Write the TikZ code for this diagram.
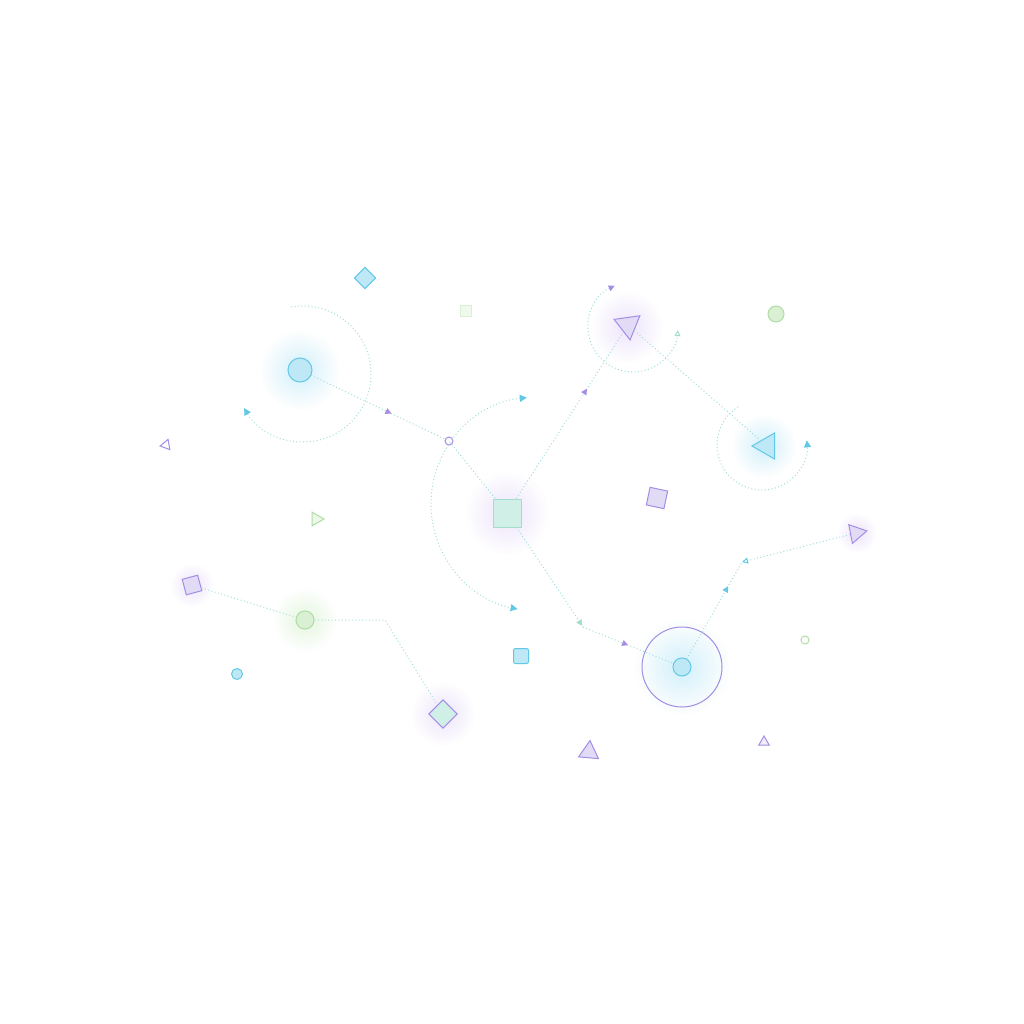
\documentclass[tikz,border=0pt]{standalone}
\usepackage{tikz}
\usetikzlibrary{arrows.meta,shapes.geometric,decorations.markings,fadings}

\definecolor{cyanline}{HTML}{62C9E5}
\definecolor{cyanfill}{HTML}{BFE8F7}
\definecolor{purpline}{HTML}{A48DE4}
\definecolor{purpfill}{HTML}{E2DBF6}
\definecolor{greenline}{HTML}{B0DCA6}
\definecolor{greenfill}{HTML}{D9F0D3}
\definecolor{tealline}{HTML}{A6DCCF}
\definecolor{tealfill}{HTML}{D0EFE7}
\definecolor{dotline}{HTML}{A3DEDC}
\definecolor{cyanglow}{HTML}{C6ECF9}
\definecolor{purpglow}{HTML}{E8DDFA}
\definecolor{greenglow}{HTML}{DDF4D5}

\tikzfading[name=glowfade, inner color=transparent!0, outer color=transparent!100]

\begin{document}
\begin{tikzpicture}[x=1pt,y=-1pt,
  disc/.style={circle, draw=#1line, fill=#1fill, line width=1pt, inner sep=0pt},
  box/.style={rectangle, draw=#1line, fill=#1fill, line width=1pt, inner sep=0pt},
  tri/.style={regular polygon, regular polygon sides=3, draw=#1line, fill=#1fill, line width=1pt, inner sep=0pt},
  glow/.style={#1glow, fill opacity=0.8, path fading=glowfade},
  link/.style={draw=dotline, line width=1pt, dash pattern=on 1pt off 2.4pt},
  orbit/.style={link},
  midtip/.style 2 args={postaction={decorate, decoration={markings,
      mark=at position #1 with {\arrow[#2, solid]{Triangle[length=6pt,width=6pt]}}}}}]
\useasboundingbox (0,0) rectangle (1024,1024);
\fill[white] (0,0) rectangle (1024,1024);

% glows
\fill[glow=cyan] (300,370) circle (40);
\fill[glow=purp] (507,513) circle (42);
\fill[glow=purp] (627,327) circle (36);
\fill[glow=cyan] (764,446) circle (32);
\fill[glow=purp] (192,585) circle (22);
\fill[glow=green] (305,620) circle (32);
\fill[glow=purp] (443,714) circle (32);
\fill[glow=cyan] (682,667) circle (48);
\fill[glow=purp] (857,533) circle (20);

% shapes
\node[disc=cyan, minimum size=24pt] (hubA) at (300,370) {};
\node[circle, draw=purpline, line width=1pt, minimum size=8pt, inner sep=0pt] (ring) at (449,441) {};
\node[box=teal, minimum size=28pt] (sqC) at (507,513) {};
\node[tri=purp, minimum size=30pt, shape border rotate=188] (triP) at (628,325) {};
\node[tri=cyan, minimum size=30pt, shape border rotate=90] (triB) at (767,446) {};
\node[disc=green, minimum size=16pt] (dotG) at (776,314) {};
\node[box=cyan, rotate=45, minimum size=15pt] (diaA) at (365,278) {};
\node[box=green, fill=greenfill!40, draw=greenfill, minimum size=11pt] (sqS) at (466,311) {};
\node[tri=purp, fill=white, minimum size=12pt, shape border rotate=100] (triL) at (166,445) {};
\node[tri=green, fill=greenfill!50, minimum size=16pt, shape border rotate=-90] (triG) at (316,519) {};
\node[box=purp, rotate=15, minimum size=16pt] (sqP) at (192,585) {};
\node[disc=green, minimum size=18pt] (dotM) at (305,620) {};
\node[rectangle, draw=purpline, fill=tealfill, line width=1pt, rotate=45, minimum size=20pt] (diaT) at (443,714) {};
\node[disc=cyan, minimum size=11pt] (dotS) at (237,674) {};
\node[box=cyan, rounded corners=2pt, minimum size=15pt] (sqR) at (521,656) {};
\node[box=purp, rotate=-12, minimum size=18pt] (sqQ) at (657,498) {};
\node[circle, draw=purpline, line width=1pt, minimum size=80pt, inner sep=0pt] (halo) at (682,667) {};
\node[disc=cyan, minimum size=18pt] (hubB) at (682,667) {};
\node[tri=purp, minimum size=22pt, shape border rotate=-79] (triR) at (856,533) {};
\node[tri=purp, minimum size=23pt, shape border rotate=-5] (triU) at (589,752) {};
\node[tri=purp, fill=purpfill!50, minimum size=12pt] (triS) at (764,742) {};
\node[disc=green, fill=white, minimum size=8pt] (dotT) at (805,640) {};

\coordinate (bendA) at (385,620);
\coordinate (bendB) at (583,627);
\coordinate (bendC) at (742,562);

% connectors
\draw[link, midtip={0.6}{purpline}] (hubA) -- (ring);
\draw[link] (ring) -- (sqC);
\draw[link, midtip={0.66}{purpline}] (sqC) -- (triP);
\draw[link] (triP) -- (triB);
\draw[link] (sqP) -- (dotM);
\draw[link] (dotM) -- (bendA) -- (diaT);
\draw[link, midtip={0.99}{tealline}] (sqC) -- (bendB);
\draw[link, midtip={0.5}{purpline}] (bendB) -- (hubB);
\draw[link, midtip={0.75}{cyanline}] (hubB) -- (bendC);
\draw[link, -{Triangle[open,length=6pt,width=6pt,color=cyanline]}] (triR) -- (bendC);

% orbits
\coordinate (orbA) at (303,374);
\coordinate (orbC) at (538,504);
\coordinate (orbP) at (633,327);
\coordinate (orbB) at (762,445);
\draw[orbit, -{Triangle[length=7pt,width=7pt,color=cyanline]}] ([shift={(-100:68)}]orbA) arc[start angle=-100, end angle=150, radius=68];
\draw[orbit, {Triangle[length=7pt,width=7pt,color=cyanline]}-{Triangle[length=7pt,width=7pt,color=cyanline]}] ([shift={(-96:107)}]orbC) arc[start angle=-96, end angle=-259, radius=107];
\draw[orbit, {Triangle[length=6pt,width=6pt,color=purpline]}-{Triangle[open,length=6pt,width=6pt,color=tealline]}] ([shift={(-114:45)}]orbP) arc[start angle=-114, end angle=-356, radius=45];
\draw[orbit, -{Triangle[length=7pt,width=7pt,color=cyanline]}] ([shift={(-122:45)}]orbB) arc[start angle=-122, end angle=-366, radius=45];
\end{tikzpicture}
\end{document}
